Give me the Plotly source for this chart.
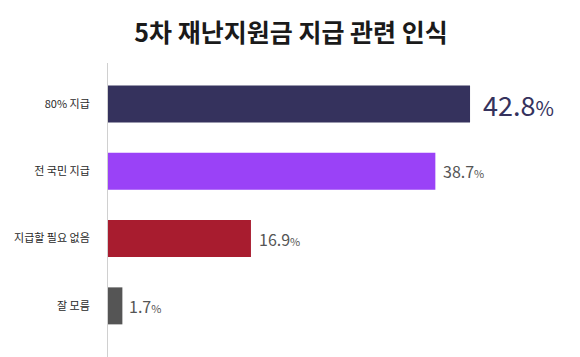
import plotly.graph_objects as go

categories = ["80% 지급", "전 국민 지급", "지급할 필요 없음", "잘 모름"]
values = [42.8, 38.7, 16.9, 1.7]
colors = ["#35325d", "#9a42f7", "#a81c2f", "#555555"]
label_colors = ["#35325d", "#555555", "#555555", "#555555"]
num_sizes = [27, 16, 16, 16]
pct_sizes = [20, 11, 11, 11]
gaps = [11, 6, 6, 5]

fig = go.Figure(
    go.Bar(
        x=values,
        y=categories,
        orientation="h",
        marker=dict(color=colors, line=dict(width=0)),
        width=0.55,
        hoverinfo="skip",
    )
)

for v, c, col, n, p, g in zip(values, categories, label_colors, num_sizes, pct_sizes, gaps):
    fig.add_annotation(
        x=v, y=c, xref="x", yref="y",
        text=f"<span style='font-size:{n}px'>{v}</span><span style='font-size:{p}px'>%</span>",
        showarrow=False, xanchor="left", yanchor="middle", xshift=g,
        font=dict(color=col, size=n, family="Noto Sans CJK KR, Noto Sans, sans-serif"),
    )

fig.update_layout(
    width=580,
    height=357,
    margin=dict(l=100, r=8, t=55, b=8),
    paper_bgcolor="white",
    plot_bgcolor="white",
    showlegend=False,
    title=dict(
        text="<b>5차 재난지원금 지급 관련 인식</b>",
        x=0.488,
        xanchor="center",
        xref="container",
        y=0.93,
        yanchor="middle",
        font=dict(size=25, color="#1a1a1a", family="Noto Sans CJK KR, sans-serif"),
    ),
    font=dict(family="Noto Sans CJK KR, Noto Sans, sans-serif"),
)
fig.update_xaxes(range=[0, 55.8], visible=False, showgrid=False, zeroline=False)
fig.update_yaxes(
    range=[3.76, -0.61],
    automargin=False,
    showline=True,
    linecolor="#d0d0d0",
    linewidth=1,
    showgrid=False,
    ticks="",
    ticklabelstandoff=15,
    tickfont=dict(size=11, color="#2a2a2a"),
)

fig.write_html("out.html")
